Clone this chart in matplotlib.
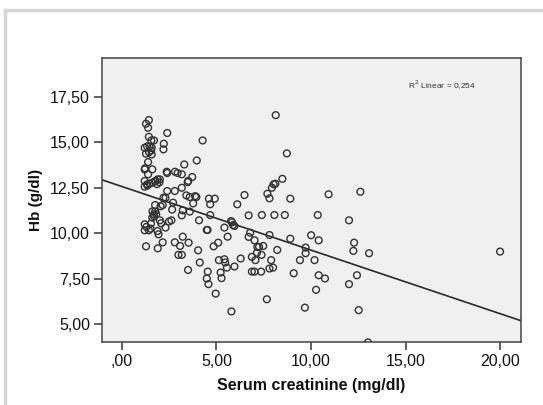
import numpy as np
import matplotlib
matplotlib.use("Agg")
import matplotlib.pyplot as plt
from matplotlib.lines import Line2D

plt.rcParams['font.family'] = ['Liberation Sans', 'DejaVu Sans']

# Serum creatinine (mg/dl) vs Hb (g/dl)
creatinine = [
    1.43, 1.28, 1.39, 1.43, 1.56, 1.70, 1.21, 1.34, 1.47, 1.58,
    1.28, 1.58, 1.39, 1.21, 1.61, 1.39, 1.21, 1.34, 1.47, 1.61,
    1.21, 1.79, 1.89, 2.01, 1.21, 1.21, 1.43, 1.54, 1.61, 1.70,
    1.28, 1.89, 1.94, 1.90, 1.76, 1.76, 2.01, 2.16, 2.16, 2.22,
    2.20, 2.40, 2.40, 2.40, 2.31, 2.20, 2.31, 2.49, 2.62, 2.71,
    2.80, 2.66, 2.80, 2.95, 3.17, 3.17, 3.08, 2.99, 3.17, 3.22,
    3.17, 3.22, 3.30, 3.41, 3.48, 3.59, 3.72, 3.53, 3.50, 3.59,
    3.77, 3.94, 3.96, 4.08, 4.03, 4.12, 4.27, 4.49, 4.54, 4.49,
    4.58, 4.60, 4.67, 4.91, 4.67, 4.85, 5.09, 4.96, 5.13, 5.22,
    5.27, 5.42, 5.42, 5.46, 5.55, 5.59, 5.77, 5.82, 5.88, 5.95,
    5.95, 5.79, 6.10, 6.28, 6.48, 6.70, 6.70, 6.78, 6.87, 6.87,
    7.01, 7.01, 7.06, 7.14, 7.16, 7.36, 7.40, 7.38, 7.47, 7.66,
    7.69, 7.80, 7.93, 8.02, 8.11, 7.80, 7.89, 7.80, 7.99, 8.06,
    8.13, 8.21, 8.48, 8.61, 8.72, 8.90, 8.90, 9.08, 9.41, 9.67,
    9.71, 9.71, 10.00, 10.18, 10.26, 10.35, 10.40, 10.40, 10.73, 10.92,
    12.00, 12.00, 12.27, 12.23, 12.42, 12.51, 12.60, 13.06, 13.00, 19.98,
    1.23, 1.44, 1.55, 1.75, 1.86, 1.99, 2.05, 2.37, 2.81, 3.51,
    3.87, 1.30, 1.52, 1.69, 1.35, 1.62, 1.82, 2.08, 4.53, 7.25,
]
hb = [
    16.22, 16.02, 15.80, 15.30, 15.10, 15.10, 14.70, 14.77, 14.77, 14.70,
    14.37, 14.33, 13.91, 13.51, 13.51, 13.24, 12.87, 12.69, 12.72, 12.78,
    12.56, 12.87, 12.96, 12.96, 10.49, 10.16, 10.16, 10.53, 10.86, 11.04,
    9.28, 10.12, 9.94, 9.17, 11.55, 11.19, 10.71, 9.50, 11.55, 14.92,
    14.61, 15.51, 13.31, 12.32, 11.95, 11.95, 10.31, 10.64, 10.71, 11.68,
    12.32, 11.30, 9.50, 13.31, 13.24, 12.50, 9.30, 8.81, 8.81, 9.81,
    10.98, 11.26, 13.78, 12.08, 12.81, 11.99, 13.09, 9.48, 7.98, 11.19,
    11.64, 11.99, 14.00, 10.71, 9.06, 8.39, 15.10, 10.18, 7.89, 7.51,
    7.20, 11.90, 11.59, 11.90, 11.00, 9.28, 9.48, 6.68, 8.52, 7.84,
    7.53, 10.31, 8.57, 8.39, 8.11, 9.81, 10.67, 10.60, 10.45, 10.40,
    8.17, 5.70, 11.59, 8.61, 12.10, 10.98, 9.80, 10.03, 8.70, 7.89,
    9.61, 7.89, 8.52, 8.93, 9.25, 7.89, 11.00, 8.81, 9.30, 6.37,
    12.17, 11.92, 12.50, 12.69, 12.72, 9.90, 8.52, 8.06, 8.11, 11.00,
    16.49, 9.08, 12.99, 11.00, 14.39, 11.90, 9.70, 7.80, 8.52, 5.91,
    9.21, 8.90, 9.89, 8.52, 6.89, 11.00, 9.61, 7.69, 7.51, 12.14,
    10.71, 7.20, 9.48, 9.03, 7.69, 5.77, 12.28, 8.90, 4.00, 8.99,
    13.57, 14.45, 14.55, 12.85, 12.70, 12.80, 11.48, 13.38, 13.38, 12.88,
    12.04, 10.35, 10.25, 10.95, 12.62, 11.20, 11.05, 10.55, 10.18, 9.25,
]

fit_intercept = 12.57
fit_slope = -0.350
r2_text = 'R$^2$ Linear = 0,254'

xticks = [0, 5, 10, 15, 20]
xtick_labels = [',00', '5,00', '10,00', '15,00', '20,00']
yticks = [5, 7.5, 10, 12.5, 15, 17.5]
ytick_labels = ['5,00', '7,50', '10,00', '12,50', '15,00', '17,50']

fig = plt.figure(figsize=(5.43, 4.05), dpi=100)
fig.patch.set_facecolor('white')
ax = fig.add_axes([0.1873, 0.156, 0.7717, 0.702])
ax.set_facecolor('#f0f0f0')

# light gray frame around the output
fig.add_artist(Line2D([5 / 543, 1], [1 - 10 / 405, 1 - 10 / 405], transform=fig.transFigure,
                      color='#d6d6d6', lw=2.5))
fig.add_artist(Line2D([5 / 543, 5 / 543], [0, 1 - 10 / 405], transform=fig.transFigure,
                      color='#d6d6d6', lw=2.5))

ax.scatter(creatinine, hb, s=24, facecolors='none', edgecolors='#333333', linewidths=1.0, zorder=3)

xlim = (-1.06, 21.07)
xs = np.array(xlim)
ax.plot(xs, fit_intercept + fit_slope * xs, color='#2a2a2a', lw=1.2, zorder=2)

ax.set_xlim(*xlim)
ax.set_ylim(4.03, 19.66)
ax.set_xticks(xticks)
ax.set_xticklabels(xtick_labels)
ax.set_yticks(yticks)
ax.set_yticklabels(ytick_labels)
ax.tick_params(axis='both', direction='out', length=6, width=1.1, color='#333333',
               labelsize=11.5, pad=2.5, labelcolor='#111111')

for sp in ax.spines.values():
    sp.set_color('#444444')
    sp.set_linewidth(1.1)

ax.set_xlabel('Serum creatinine (mg/dl)', fontsize=11.5, fontweight='bold', labelpad=7, color='#111111')
ax.set_ylabel('Hb (g/dl)', fontsize=11, fontweight='bold', labelpad=5, color='#111111')

ax.text(0.811, 0.903, r2_text, transform=ax.transAxes, ha='center', va='center',
        fontsize=6, color='#333333')

fig.savefig('out.png', dpi=100)
